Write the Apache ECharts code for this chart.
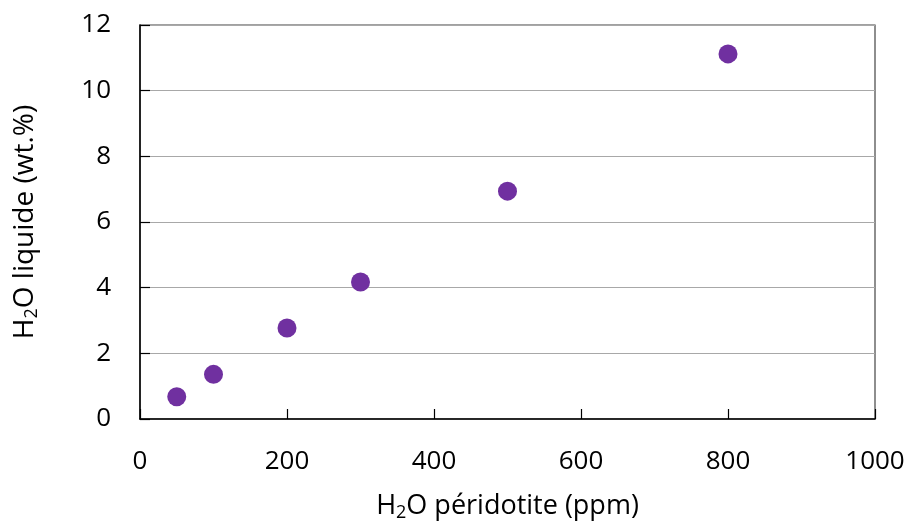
<!DOCTYPE html>
<html>
<head>
<meta charset="utf-8">
<script src="https://cdn.jsdelivr.net/npm/echarts@6/dist/echarts.min.js"></script>
<style>html,body{margin:0;padding:0;background:#fff}#c{width:912px;height:523px}</style>
</head>
<body>
<div id="c"></div>
<script>
var xValues = [50, 100, 200, 300, 500, 800];
var yValues = [0.68, 1.36, 2.77, 4.17, 6.94, 11.12];
var xTicks = [0, 200, 400, 600, 800, 1000];
var yTicks = [0, 2, 4, 6, 8, 10, 12];

var font = '"Open Sans", "Noto Sans", sans-serif';
var chart = echarts.init(document.getElementById('c'));
function richFor(size) {
  return {
    a: {fontSize: size, fontFamily: font, color: '#000'},
    s: {fontSize: Math.round(size * 0.66), fontFamily: font, color: '#000', padding: [13, 0, 0, 0]}
  };
}
chart.setOption({
  animation: false,
  grid: {left: 140, right: 37, top: 25, bottom: 104, show: true, borderColor: '#444', borderWidth: 1.2,
    containLabel: false, outerBoundsMode: 'none'},
  xAxis: {
    type: 'value', min: 0, max: 1000, interval: 200,
    name: '{a|H}{s|2}{a|O péridotite (ppm)}',
    nameLocation: 'middle', nameGap: 72,
    nameTextStyle: {rich: richFor(27)},
    axisLine: {show: true, lineStyle: {color: '#000', width: 1.5}},
    axisTick: {show: true, inside: true, length: 10, lineStyle: {color: '#000', width: 1.2}},
    axisLabel: {fontSize: 26, fontFamily: font, color: '#000', margin: 30,
      formatter: function (v) { return String(v); }},
    splitLine: {show: false}
  },
  yAxis: {
    type: 'value', min: 0, max: 12, interval: 2,
    name: '{a|H}{s|2}{a|O liquide (wt.%)}',
    nameLocation: 'middle', nameGap: 99, nameRotate: 90,
    nameTextStyle: {rich: richFor(28)},
    axisLine: {show: true, lineStyle: {color: '#000', width: 1.5}},
    axisTick: {show: true, inside: true, length: 10, lineStyle: {color: '#000', width: 1.2}},
    axisLabel: {fontSize: 26, fontFamily: font, color: '#000', margin: 29,
      formatter: function (v) { return String(v); }},
    splitLine: {show: true, lineStyle: {color: '#a8a8a8', width: 1.2}}
  },
  series: [{
    type: 'scatter',
    data: xValues.map(function (x, i) { return [x, yValues[i]]; }),
    symbol: 'circle', symbolSize: 19,
    itemStyle: {color: '#7030a0', opacity: 1}
  }]
});
</script>
</body>
</html>
